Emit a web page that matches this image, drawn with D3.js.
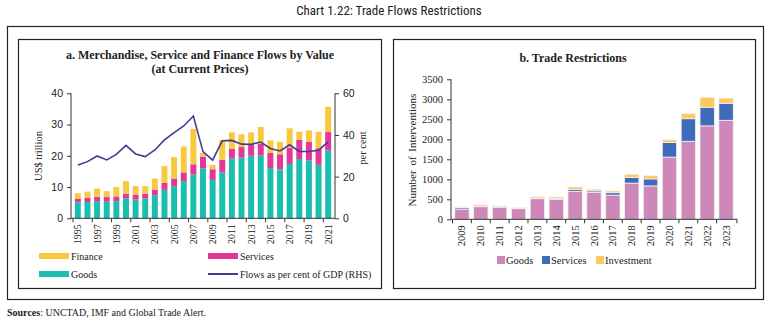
<!DOCTYPE html>
<html>
<head>
<meta charset="utf-8">
<script src="https://cdn.jsdelivr.net/npm/d3@7"></script>
<style>
	body { margin: 0; background: #fff; }
	svg text { font-family: "Liberation Serif", "DejaVu Serif", serif; fill: #222; }
	.axis path, .axis line { stroke: #333; }
</style>
</head>
<body>
<div id="graph"></div>
<script>
// panel a: flows by value, US$ trillion (stacked) and per cent of GDP
var yearsA = ["1995","1996","1997","1998","1999","2000","2001","2002","2003","2004","2005","2006","2007","2008","2009","2010","2011","2012","2013","2014","2015","2016","2017","2018","2019","2020","2021"];
var goodsA = [5.1,5.2,5.5,5.3,5.5,6.4,6.0,6.4,7.4,9.1,10.3,11.9,14.0,16.0,12.3,14.7,19.2,19.4,20.0,20.1,16.1,15.7,17.4,19.0,18.5,17.1,21.7];
var servicesA = [1.2,1.4,1.4,1.5,1.5,1.5,1.6,1.5,1.8,2.2,2.4,2.8,3.3,3.7,3.4,4.0,3.0,3.4,3.5,3.8,4.8,4.8,5.2,6.1,6.0,5.3,5.9];
var financeA = [1.7,1.9,2.6,1.9,3.0,4.0,2.7,2.4,3.5,5.4,6.9,8.3,11.3,1.2,1.4,6.3,5.3,4.1,4.0,5.3,4.0,4.0,6.2,2.6,3.6,5.3,8.1];
var gdpShare = [25.6,27.2,29.9,28.0,30.7,35.0,30.9,29.6,32.8,37.6,41.1,44.3,49.1,32.0,27.9,37.2,37.4,35.6,35.5,36.6,33.5,32.3,35.3,32.1,32.1,32.7,36.7];
var ticksLeftA = [0,10,20,30,40];
var ticksRightA = [0,20,40,60];

// panel b: number of trade interventions
var yearsB = ["2009","2010","2011","2012","2013","2014","2015","2016","2017","2018","2019","2020","2021","2022","2023"];
var goodsB = [255,315,300,265,515,495,700,670,605,905,835,1555,1950,2335,2475];
var servicesB = [35,10,17,10,10,22,42,40,60,140,175,365,565,465,425];
var investmentB = [18,35,17,17,33,40,65,42,42,80,80,65,125,250,130];
var ticksB = [0,500,1000,1500,2000,2500,3000,3500];

var w = 774, h = 323;

var svg = d3.select("#graph")
	.append("svg")
	.attr("width", w)
	.attr("height", h);

svg.append("text")
	.attr("x", w/2 + 2)
	.attr("y", 15)
	.attr("text-anchor", "middle")
	.style("font-family", "'Liberation Sans Narrow', 'Roboto Condensed', 'Liberation Sans', sans-serif")
	.style("font-size", "13px")
	.text("Chart 1.22: Trade Flows Restrictions");

// outer frame and the two panel frames
svg.append("rect").attr("x", 7.5).attr("y", 26.5).attr("width", 756).attr("height", 273)
	.attr("fill", "none").attr("stroke", "#222").attr("stroke-width", 1.2);
svg.append("rect").attr("x", 18.5).attr("y", 39.5).attr("width", 363).attr("height", 249)
	.attr("fill", "none").attr("stroke", "#222").attr("stroke-width", 1.2);
svg.append("rect").attr("x", 393.5).attr("y", 39.5).attr("width", 362).attr("height", 249)
	.attr("fill", "none").attr("stroke", "#222").attr("stroke-width", 1.2);

svg.append("text")
	.attr("x", 7)
	.attr("y", 316)
	.style("font-size", "10px")
	.html("<tspan font-weight='bold'>Sources</tspan>: UNCTAD, IMF and Global Trade Alert.");

drawPanelA();
drawPanelB();

function drawPanelA() {
	var colors = {goods: "#1bbfb0", services: "#e3379a", finance: "#f8c93e", line: "#433b96"};
	var g = svg.append("g").attr("id", "panelA");

	g.append("text")
		.attr("x", 200).attr("y", 59)
		.attr("text-anchor", "middle")
		.style("font-size", "12px").style("font-weight", "bold")
		.text("a. Merchandise, Service and Finance Flows by Value");
	g.append("text")
		.attr("x", 200).attr("y", 73)
		.attr("text-anchor", "middle")
		.style("font-size", "12px").style("font-weight", "bold")
		.text("(at Current Prices)");

	var xScale = d3.scaleBand()
		.domain(yearsA)
		.range([71, 335])
		.paddingInner(0.38)
		.paddingOuter(0.4);
	var yScale = d3.scaleLinear().domain([0, 40]).range([218.3, 93.3]);
	var yRight = d3.scaleLinear().domain([0, 60]).range([218.3, 93.3]);

	var rows = yearsA.map(function (d, i) {
		return {year: d, goods: goodsA[i], services: servicesA[i], finance: financeA[i]};
	});
	var stack = d3.stack().keys(["goods", "services", "finance"])(rows);

	g.selectAll("g.layer")
		.data(stack)
		.enter().append("g")
		.attr("class", "layer")
		.attr("fill", function (d) { return colors[d.key]; })
		.selectAll("rect")
		.data(function (d) { return d; })
		.enter().append("rect")
		.attr("x", function (d) { return xScale(d.data.year); })
		.attr("width", xScale.bandwidth())
		.attr("y", function (d) { return yScale(d[1]); })
		.attr("height", function (d) { return yScale(d[0]) - yScale(d[1]); });

	var line = d3.line()
		.x(function (d, i) { return xScale(yearsA[i]) + xScale.bandwidth()/2; })
		.y(function (d) { return yRight(d); });

	g.append("path")
		.datum(gdpShare)
		.attr("fill", "none")
		.attr("stroke", colors.line)
		.attr("stroke-width", 1.6)
		.attr("d", line);

	// axes
	var axisL = g.append("g").attr("class", "axis")
		.attr("transform", "translate(71,0)")
		.call(d3.axisLeft(yScale).tickValues(ticksLeftA).tickSize(4).tickPadding(4));
	var axisR = g.append("g").attr("class", "axis")
		.attr("transform", "translate(335,0)")
		.call(d3.axisRight(yRight).tickValues(ticksRightA).tickSize(4).tickPadding(4));
	[axisL, axisR].forEach(function (a) {
		a.selectAll("text")
			.style("font-family", "'Liberation Sans', 'DejaVu Sans', sans-serif")
			.style("font-size", "10.5px")
			.attr("fill", "#333");
		a.select(".domain").attr("d", "M0,218.3V93.3");
	});

	var axisX = g.append("g").attr("class", "axis")
		.attr("transform", "translate(0,218.3)");
	axisX.append("line")
		.attr("x1", 71).attr("x2", 335)
		.attr("stroke", "#333");
	axisX.selectAll("line.tick")
		.data(yearsA.filter(function (d, i) { return i % 2 == 0; }))
		.enter().append("line")
		.attr("class", "tick")
		.attr("x1", function (d) { return xScale(d) - xScale.step()*xScale.paddingInner()/2; })
		.attr("x2", function (d) { return xScale(d) - xScale.step()*xScale.paddingInner()/2; })
		.attr("y1", 0).attr("y2", 4)
		.attr("stroke", "#333");
	axisX.selectAll("text")
		.data(yearsA.filter(function (d, i) { return i % 2 == 0; }))
		.enter().append("text")
		.attr("transform", function (d) {
			return "translate(" + (xScale(d) + xScale.bandwidth()/2 + 3.5) + ",6) rotate(-90)";
		})
		.attr("text-anchor", "end")
		.style("font-size", "10px")
		.text(function (d) { return d; });

	g.append("text")
		.attr("transform", "translate(42,156) rotate(-90)")
		.attr("text-anchor", "middle")
		.style("font-size", "10.5px")
		.text("US$ trillion");
	g.append("text")
		.attr("transform", "translate(366,148) rotate(-90)")
		.attr("text-anchor", "middle")
		.style("font-size", "10.5px")
		.text("per cent");

	// legend
	var legend = [
		{label: "Finance", color: colors.finance, x: 39, y: 256, type: "bar"},
		{label: "Services", color: colors.services, x: 208, y: 256, type: "bar"},
		{label: "Goods", color: colors.goods, x: 39, y: 274, type: "bar"},
		{label: "Flows as per cent of GDP (RHS)", color: colors.line, x: 208, y: 274, type: "line"}
	];
	var items = g.selectAll("g.legend")
		.data(legend)
		.enter().append("g")
		.attr("class", "legend")
		.attr("transform", function (d) { return "translate(" + d.x + "," + d.y + ")"; });
	items.append("rect")
		.attr("x", 0)
		.attr("y", function (d) { return d.type == "bar" ? -3 : -1; })
		.attr("width", 30)
		.attr("height", function (d) { return d.type == "bar" ? 6 : 2; })
		.attr("fill", function (d) { return d.color; });
	items.append("text")
		.attr("x", 32)
		.attr("y", 3.5)
		.style("font-size", "10px")
		.text(function (d) { return d.label; });
}

function drawPanelB() {
	var colors = {goods: "#cd88b9", services: "#3f6cb8", investment: "#ffc85c"};
	var g = svg.append("g").attr("id", "panelB");

	g.append("text")
		.attr("x", 573).attr("y", 62)
		.attr("text-anchor", "middle")
		.style("font-size", "12px").style("font-weight", "bold")
		.text("b. Trade Restrictions");

	var xScale = d3.scaleBand()
		.domain(yearsB)
		.range([451, 737])
		.paddingInner(0.24)
		.paddingOuter(0.2);
	var yScale = d3.scaleLinear().domain([0, 3500]).range([219.3, 79.3]);

	var rows = yearsB.map(function (d, i) {
		return {year: d, goods: goodsB[i], services: servicesB[i], investment: investmentB[i]};
	});
	var stack = d3.stack().keys(["goods", "services", "investment"])(rows);

	g.selectAll("g.layer")
		.data(stack)
		.enter().append("g")
		.attr("class", "layer")
		.attr("fill", function (d) { return colors[d.key]; })
		.selectAll("rect")
		.data(function (d) { return d; })
		.enter().append("rect")
		.attr("x", function (d) { return xScale(d.data.year); })
		.attr("width", xScale.bandwidth())
		.attr("y", function (d) { return yScale(d[1]); })
		.attr("height", function (d) { return yScale(d[0]) - yScale(d[1]); })
		.attr("stroke", "#f4eef4")
		.attr("stroke-width", 0.8);

	var axisY = g.append("g").attr("class", "axis")
		.attr("transform", "translate(451,0)")
		.call(d3.axisLeft(yScale).tickValues(ticksB).tickFormat(d3.format("d")).tickSize(4).tickPadding(4));
	axisY.selectAll("text")
		.style("font-size", "10.5px")
		.style("font-family", "'Liberation Serif', serif")
		.attr("fill", "#333");
	axisY.select(".domain").attr("d", "M0,219.3V79.3");

	var axisX = g.append("g").attr("class", "axis")
		.attr("transform", "translate(0,219.3)");
	axisX.append("line")
		.attr("x1", 451).attr("x2", 737)
		.attr("stroke", "#333");
	axisX.selectAll("line.tick")
		.data(yearsB.concat(["end"]))
		.enter().append("line")
		.attr("class", "tick")
		.attr("x1", function (d, i) { return i < yearsB.length ? xScale(d) - xScale.step()*xScale.paddingInner()/2 : 737; })
		.attr("x2", function (d, i) { return i < yearsB.length ? xScale(d) - xScale.step()*xScale.paddingInner()/2 : 737; })
		.attr("y1", 0).attr("y2", 4)
		.attr("stroke", "#333");
	axisX.selectAll("text")
		.data(yearsB)
		.enter().append("text")
		.attr("transform", function (d) {
			return "translate(" + (xScale(d) + xScale.bandwidth()/2 + 3.5) + ",6) rotate(-90)";
		})
		.attr("text-anchor", "end")
		.style("font-size", "10.5px")
		.text(function (d) { return d; });

	g.append("text")
		.attr("transform", "translate(416,150) rotate(-90)")
		.attr("text-anchor", "middle")
		.style("font-size", "11px")
		.style("word-spacing", "2px")
		.text("Number of Interventions");

	var legend = [
		{label: "Goods", color: colors.goods, x: 497},
		{label: "Services", color: colors.services, x: 542},
		{label: "Investment", color: colors.investment, x: 596}
	];
	var items = g.selectAll("g.legend")
		.data(legend)
		.enter().append("g")
		.attr("class", "legend")
		.attr("transform", function (d) { return "translate(" + d.x + ",260)"; });
	items.append("rect")
		.attr("x", 0).attr("y", -4)
		.attr("width", 8).attr("height", 8)
		.attr("fill", function (d) { return d.color; });
	items.append("text")
		.attr("x", 9)
		.attr("y", 3.5)
		.style("font-size", "10.5px")
		.text(function (d) { return d.label; });
}
</script>
</body>
</html>
